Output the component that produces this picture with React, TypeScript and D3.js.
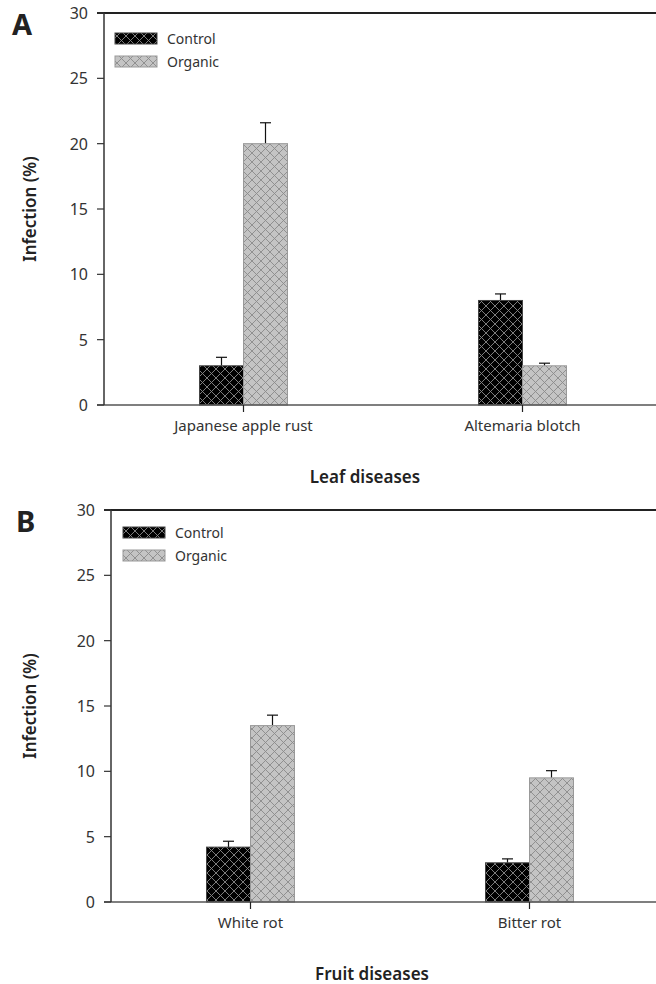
import * as d3 from "d3";

const series = ["Control", "Organic"];
const leafCategories = ["Japanese apple rust", "Altemaria blotch"];
const leafMeans = [
  [3.0, 20.0],
  [8.0, 3.0],
];
const leafErrors = [
  [0.65, 1.6],
  [0.5, 0.2],
];
const fruitCategories = ["White rot", "Bitter rot"];
const fruitMeans = [
  [4.2, 13.5],
  [3.0, 9.5],
];
const fruitErrors = [
  [0.45, 0.8],
  [0.3, 0.55],
];
const yTicks = [0, 5, 10, 15, 20, 25, 30];

const FONT = "'Noto Sans', 'Open Sans', sans-serif";
const TEXT = "#333";

type PanelProps = {
  letter: string;
  letterX: number;
  title: string;
  titleX: number;
  categories: string[];
  means: number[][];
  errors: number[][];
  left: number;
  top: number;
  bottom: number;
  legendX: number;
  legendY: number;
};

const Panel = ({ letter, letterX, title, titleX, categories, means, errors, left, top, bottom, legendX, legendY }: PanelProps) => {
  const y = d3.scaleLinear().domain([0, 30]).range([bottom, top]);
  const x = d3.scaleBand().domain(categories).range([left, left + 558]).padding(0);
  const inner = d3.scaleBand().domain(series).range([-44, 44]).padding(0);
  const fills = ["url(#hatchDark)", "url(#hatchLight)"];
  const strokes = ["#444", "#999"];

  return (
    <g>
      <text x={letterX} y={top + 22} fontFamily={FONT} fontWeight={700} fontSize={29} fill="#222">
        {letter}
      </text>
      {/* bars */}
      {categories.map((c, ci) =>
        series.map((s, si) => {
          const cx = (x(c) as number) + x.bandwidth() / 2;
          const bx = cx + (inner(s) as number);
          const v = means[ci][si];
          const e = errors[ci][si];
          const mid = bx + inner.bandwidth() / 2;
          return (
            <g key={c + s}>
              <line x1={mid} x2={mid} y1={y(v)} y2={y(v + e)} stroke="#111" strokeWidth={1.2} />
              <line x1={mid - 5.5} x2={mid + 5.5} y1={y(v + e)} y2={y(v + e)} stroke="#111" strokeWidth={1.2} />
              <rect x={bx} y={y(v)} width={inner.bandwidth()} height={bottom - y(v)} fill={fills[si]} stroke={strokes[si]} strokeWidth={1} />
            </g>
          );
        })
      )}
      {/* axes */}
      <line x1={left - 7} x2={660} y1={top} y2={top} stroke="#222" strokeWidth={2} />
      <line x1={left - 7} x2={660} y1={bottom} y2={bottom} stroke="#555" strokeWidth={1.5} />
      <line x1={left} x2={left} y1={top} y2={bottom} stroke="#333" strokeWidth={1.5} />
      {yTicks.map((t) => (
        <g key={t}>
          <line x1={left - 7} x2={left} y1={y(t)} y2={y(t)} stroke="#333" strokeWidth={1.2} />
          <text x={left - 16} y={y(t) + 6} textAnchor="end" fontFamily={FONT} fontSize={16} fill={TEXT}>
            {t}
          </text>
        </g>
      ))}
      {categories.map((c) => {
        const cx = (x(c) as number) + x.bandwidth() / 2;
        return (
          <g key={c}>
            <line x1={cx} x2={cx} y1={bottom} y2={bottom + 7} stroke="#222" strokeWidth={1.2} />
            <text x={cx} y={bottom + 26} textAnchor="middle" fontFamily={FONT} fontSize={15} fill={TEXT}>
              {c}
            </text>
          </g>
        );
      })}
      <text x={titleX} y={bottom + 78} textAnchor="middle" fontFamily={FONT} fontWeight={600} fontSize={17} fill="#222">
        {title}
      </text>
      <text
        transform={`translate(36, ${(top + bottom) / 2}) rotate(-90)`}
        textAnchor="middle"
        fontFamily={FONT}
        fontWeight={600}
        fontSize={17}
        fill="#222"
      >
        Infection (%)
      </text>
      {/* legend */}
      {series.map((s, i) => (
        <g key={s}>
          <rect x={legendX} y={legendY + i * 23} width={42} height={11} fill={fills[i]} stroke={strokes[i]} strokeWidth={1} />
          <text x={legendX + 52} y={legendY + i * 23 + 11} fontFamily={FONT} fontSize={14} fill={TEXT}>
            {s}
          </text>
        </g>
      ))}
    </g>
  );
};

export default function App() {
  return (
    <svg width={656} height={984} style={{ position: "absolute", left: 0, top: 0 }}>
      <defs>
        <pattern id="hatchDark" patternUnits="userSpaceOnUse" width={9} height={9}>
          <rect width={9} height={9} fill="#000" />
          <path d="M0,0 L9,9 M9,0 L0,9" stroke="#8a8a8a" strokeWidth={0.9} />
        </pattern>
        <pattern id="hatchLight" patternUnits="userSpaceOnUse" width={9} height={9}>
          <rect width={9} height={9} fill="#c4c4c4" />
          <path d="M0,0 L9,9 M9,0 L0,9" stroke="#8a8a8a" strokeWidth={0.9} />
        </pattern>
      </defs>
      <rect width={656} height={984} fill="#fff" />
      <Panel
        letter="A"
        letterX={12}
        title="Leaf diseases"
        titleX={365}
        categories={leafCategories}
        means={leafMeans}
        errors={leafErrors}
        left={104}
        top={13}
        bottom={405}
        legendX={115}
        legendY={33}
      />
      <Panel
        letter="B"
        letterX={16}
        title="Fruit diseases"
        titleX={372}
        categories={fruitCategories}
        means={fruitMeans}
        errors={fruitErrors}
        left={111}
        top={510}
        bottom={902}
        legendX={123}
        legendY={527}
      />
    </svg>
  );
}
